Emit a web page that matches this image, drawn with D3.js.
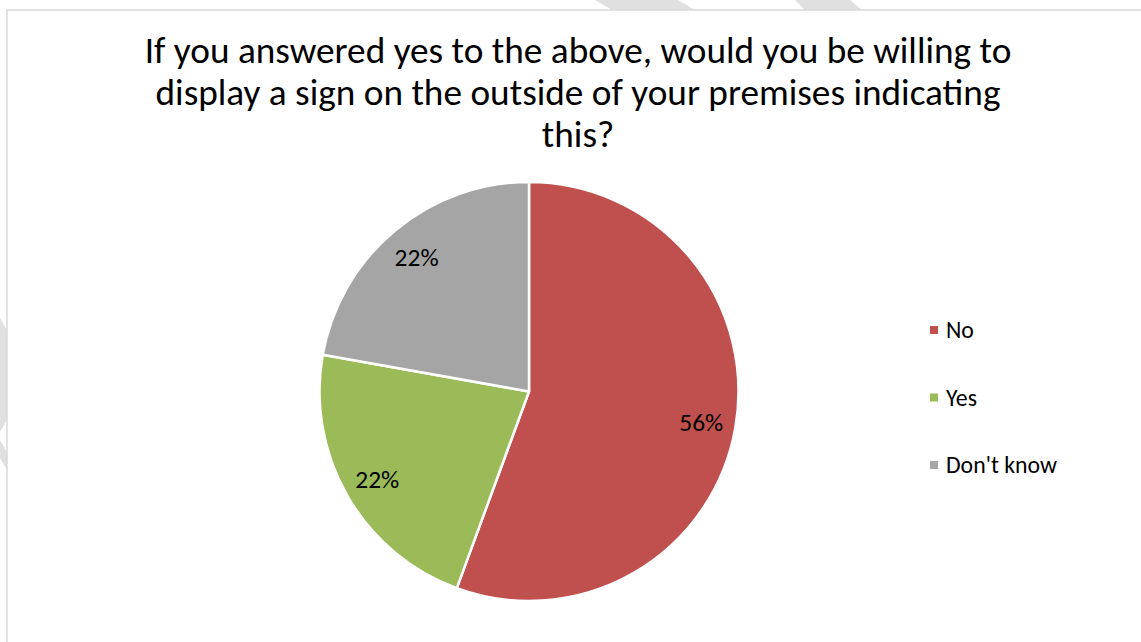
<!DOCTYPE html>
<html><head><meta charset="utf-8">
<script src="https://cdn.jsdelivr.net/npm/d3@7"></script>
<style>html,body{margin:0;padding:0;background:#fff;overflow:hidden}</style>
</head><body>
<script>
const categories = ["No", "Yes", "Don't know"];
const values = [55.6, 22.2, 22.2];
const labels = ["56%", "22%", "22%"];
const colors = ["#C0504D", "#9BBB59", "#A5A5A5"];
const titleLines = ["If you answered yes to the above, would you be willing to",
  "display a sign on the outside of your premises indicating", "this?"];

const W = 1141, H = 642;
const FONT = "Carlito, Calibri, Lato, sans-serif";
const svg = d3.select("body").append("svg").attr("width", W).attr("height", H);

// background watermark stripes outside the chart frame
const stripes = [
  [[595,0],[678,0],[695,10],[612,10]],
  [[795,0],[850,0],[862,10],[805,10]],
  [[0,318],[7,330],[7,420],[0,432]],
  [[0,440],[7,452],[7,470],[0,458]]
];
svg.selectAll("polygon.stripe").data(stripes).join("polygon")
  .attr("points", d => d.map(p => p.join(",")).join(" "))
  .attr("fill", "#e0e0e0");

svg.append("rect").attr("x", 7).attr("y", 10).attr("width", W + 20).attr("height", H + 20)
  .attr("fill", "#fff").attr("stroke", "#d9d9d9").attr("stroke-width", 1.5);

// title
const tEl = svg.append("g");
const baselines = [63, 105, 147];
const tt = tEl.selectAll("text").data(titleLines).join("text")
  .attr("x", 578).attr("y", (d, i) => baselines[i])
  .attr("text-anchor", "middle").attr("font-family", FONT)
  .attr("font-size", 32).attr("fill", "#000").text(d => d);
const w0 = tt.node().getComputedTextLength();
const fs = 32 * 867 / w0;
tt.attr("font-size", fs);

// pie
const cx = 529, cy = 391.5, R = 209.5;
const pie = d3.pie().sort(null).value(d => d)(values);
const arc = d3.arc().innerRadius(0).outerRadius(R);
const labelArc = d3.arc().innerRadius(175).outerRadius(175);
const g = svg.append("g").attr("transform", `translate(${cx},${cy})`);
g.selectAll("path").data(pie).join("path")
  .attr("d", arc).attr("fill", (d, i) => colors[i])
  .attr("stroke", "#fff").attr("stroke-width", 2.5).attr("stroke-linejoin", "round");
const lbl = g.selectAll("text").data(pie).join("text")
  .attr("transform", d => `translate(${labelArc.centroid(d)})`)
  .attr("text-anchor", "middle").attr("dy", "0.35em")
  .attr("font-family", FONT).attr("font-size", 20).attr("fill", "#000")
  .text((d, i) => labels[i]);
const lw = lbl.node().getComputedTextLength();
lbl.attr("font-size", 20 * 44 / lw);

// legend
const legY = d3.scalePoint().domain(categories).range([330, 465]);
const leg = svg.append("g");
leg.selectAll("rect").data(categories).join("rect")
  .attr("x", 930).attr("y", d => legY(d) - 4).attr("width", 8).attr("height", 8)
  .attr("fill", (d, i) => colors[i]);
const lt = leg.selectAll("text").data(categories).join("text")
  .attr("x", 946).attr("y", d => legY(d)).attr("dy", "0.35em")
  .attr("font-family", FONT).attr("font-size", 20).attr("fill", "#000").text(d => d);
const ltw = lt.filter((d, i) => i === 2).node().getComputedTextLength();
lt.attr("font-size", 20 * 111 / ltw);
</script>
</body></html>
